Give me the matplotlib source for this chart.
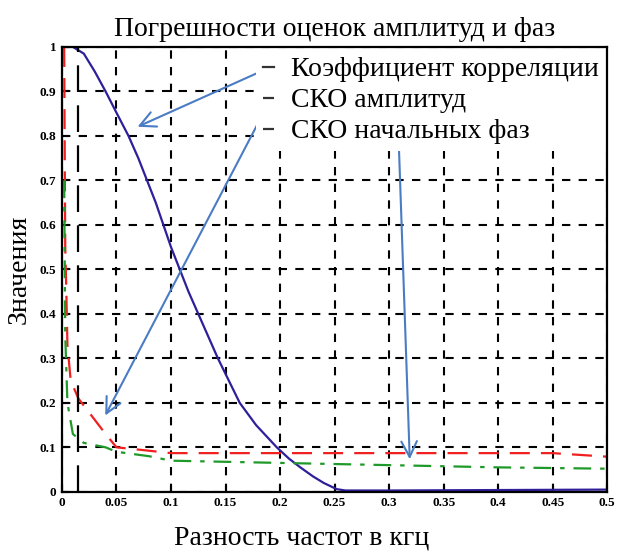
import matplotlib
matplotlib.use("Agg")
import matplotlib.pyplot as plt
import numpy as np

# frequency difference, kHz
f_corr = [0.0, 0.01, 0.02, 0.025, 0.03, 0.04, 0.05, 0.061, 0.07, 0.078, 0.086,
          0.093, 0.1, 0.108, 0.116, 0.125, 0.134, 0.143, 0.153, 0.163, 0.178,
          0.197, 0.208, 0.218, 0.23, 0.24, 0.252, 0.26, 0.3, 0.4, 0.5]
corr = [1.0, 1.0, 0.985, 0.965, 0.945, 0.9, 0.852, 0.8, 0.75, 0.7, 0.65,
        0.6, 0.55, 0.5, 0.45, 0.4, 0.35, 0.3, 0.25, 0.2, 0.15,
        0.1, 0.075, 0.056, 0.035, 0.02, 0.006, 0.003, 0.003, 0.004, 0.005]

f_amp = [0.002, 0.003, 0.004, 0.005, 0.008, 0.015, 0.04, 0.05, 0.07, 0.1,
         0.3, 0.45, 0.5]
sko_amp = [1.0, 0.55, 0.45, 0.33, 0.25, 0.21, 0.13, 0.1, 0.095, 0.087,
           0.087, 0.087, 0.079]

f_phase = [0.002, 0.003, 0.005, 0.01, 0.02, 0.04, 0.05, 0.08, 0.1, 0.2,
           0.3, 0.4, 0.5]
sko_phase = [0.7, 0.35, 0.2, 0.13, 0.11, 0.1, 0.09, 0.08, 0.07, 0.065,
             0.06, 0.055, 0.052]

marker_f = [0.0145, 0.0145]
marker_v = [0.0, 1.0]

labels = ["Коэффициент корреляции", "СКО амплитуд", "СКО начальных фаз"]

serif = ["Liberation Serif", "DejaVu Serif"]
plt.rcParams["font.family"] = serif

fig = plt.figure(figsize=(6.26, 5.52), dpi=100)
ax = fig.add_axes([0.099, 0.109, 0.871, 0.806])

l1, = ax.plot(f_corr, corr, color="#2e1f9a", lw=1.6)
l2, = ax.plot(f_amp, sko_amp, color="#f02020", lw=1.6, dashes=(9, 5))
l3, = ax.plot(f_phase, sko_phase, color="#1f9a2a", lw=1.6, dashes=(8, 4, 2, 4))
ax.plot(marker_f, marker_v, color="black", lw=1.6, dashes=(12, 6))

ax.set_xlim(0, 0.5)
ax.set_ylim(0, 1)
ax.set_xticks(np.arange(0, 0.501, 0.05))
ax.set_yticks(np.arange(0, 1.001, 0.1))
ax.set_xticklabels(["0", "0.05", "0.1", "0.15", "0.2", "0.25", "0.3",
                    "0.35", "0.4", "0.45", "0.5"])
ax.set_yticklabels(["0", "0.1", "0.2", "0.3", "0.4", "0.5", "0.6",
                    "0.7", "0.8", "0.9", "1"])
ax.tick_params(direction="in", length=5, width=1.5, labelsize=9.5, pad=4)
for t in ax.get_xticklabels() + ax.get_yticklabels():
    t.set_fontweight("bold")
ax.grid(True, color="black", lw=1.5, dashes=(4, 4))
for s in ax.spines.values():
    s.set_linewidth(1.6)
    s.set_zorder(6)

leg = ax.legend([l1, l2, l3], labels, loc="upper right",
                bbox_to_anchor=(0.997, 0.993), fontsize=20,
                handlelength=0.4, handletextpad=0.6, labelspacing=0.2,
                frameon=True, fancybox=False, borderaxespad=0.0,
                borderpad=0.25)
leg.get_frame().set_edgecolor("none")
leg.get_frame().set_alpha(1.0)
for h in leg.get_lines():
    h.set_color("#333333")

arrow = dict(arrowstyle="->", color="#4a7cc4", lw=1.5, mutation_scale=28)
ax.annotate("", xy=(0.067, 0.818), xytext=(0.188, 0.951), arrowprops=arrow)
ax.annotate("", xy=(0.0385, 0.166), xytext=(0.188, 0.867), arrowprops=arrow)
ax.annotate("", xy=(0.319, 0.067), xytext=(0.309, 0.773), arrowprops=arrow)

ax.set_title("Погрешности оценок амплитуд и фаз", fontsize=20, pad=8)
ax.set_xlabel("Разность частот в кгц", fontsize=20, labelpad=6)
ax.xaxis.set_label_coords(0.44, -0.075)
ax.set_ylabel("Значения", fontsize=20, labelpad=6)

fig.savefig("out.png", dpi=100)
